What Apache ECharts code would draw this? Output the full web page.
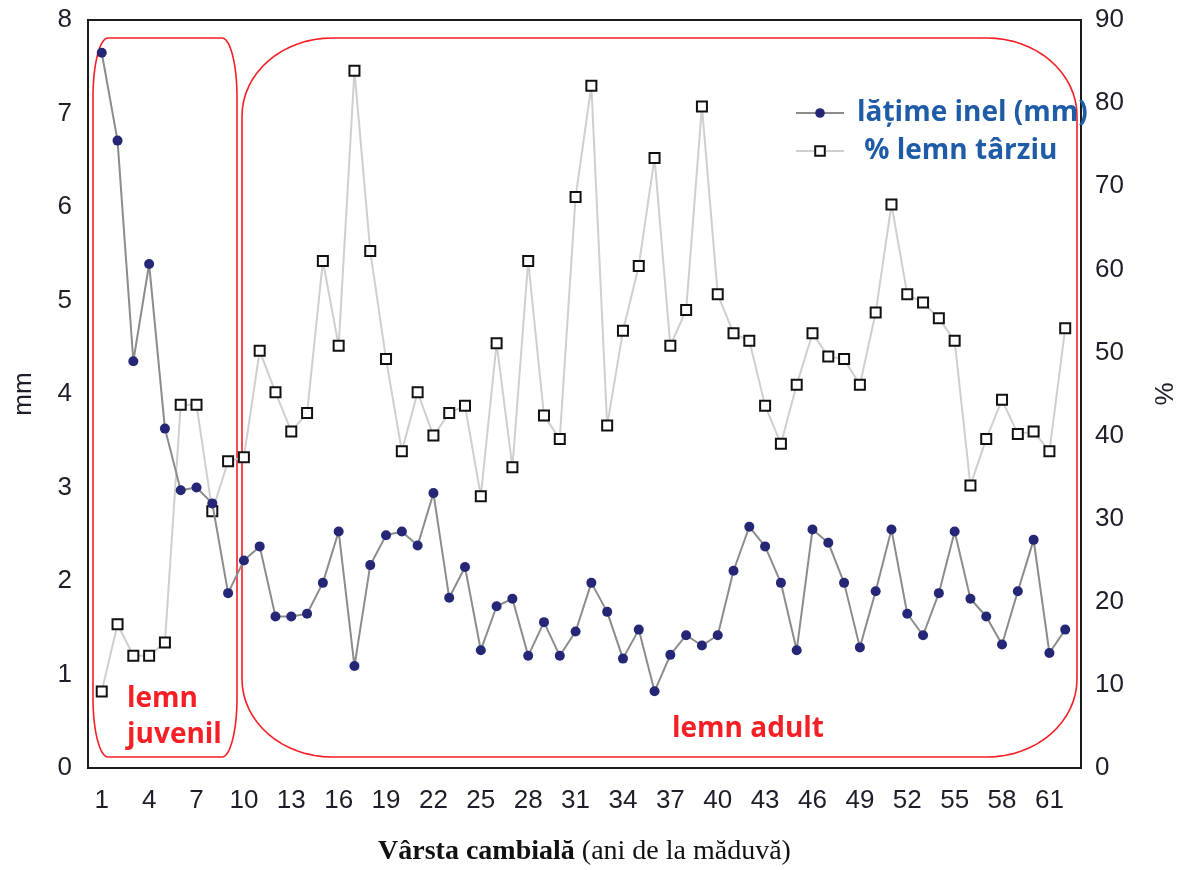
<!DOCTYPE html>
<html>
<head>
<meta charset="utf-8">
<title>Vârsta cambială</title>
<script src="https://cdn.jsdelivr.net/npm/echarts@6/dist/echarts.min.js"></script>
<style>
    html, body { margin: 0; padding: 0; background: #fff; }
    #chart { width: 1182px; height: 870px; }
</style>
</head>
<body>
<div id="chart"></div>
<script>
// ani de la măduvă (1..62)
const ages = Array.from({ length: 62 }, (_, i) => i + 1)
const xTicks = [1, 4, 7, 10, 13, 16, 19, 22, 25, 28, 31, 34, 37, 40, 43, 46, 49, 52, 55, 58, 61]

// lățime inel (mm)
const ringWidth = [
    7.65, 6.71, 4.35, 5.39, 3.63, 2.97, 3.00, 2.83, 1.87, 2.22,
    2.37, 1.62, 1.62, 1.65, 1.98, 2.53, 1.09, 2.17, 2.49, 2.53,
    2.38, 2.94, 1.82, 2.15, 1.26, 1.73, 1.81, 1.20, 1.56, 1.20,
    1.46, 1.98, 1.67, 1.17, 1.48, 0.82, 1.21, 1.42, 1.31, 1.42,
    2.11, 2.58, 2.37, 1.98, 1.26, 2.55, 2.41, 1.98, 1.29, 1.89,
    2.55, 1.65, 1.42, 1.87, 2.53, 1.81, 1.62, 1.32, 1.89, 2.44,
    1.23, 1.48
]

// % lemn târziu
const latewood = [
    9.2, 17.3, 13.5, 13.5, 15.1, 43.7, 43.7, 30.9, 36.9, 37.4,
    50.2, 45.2, 40.5, 42.7, 61.0, 50.8, 83.9, 62.2, 49.2, 38.1,
    45.2, 40.0, 42.7, 43.6, 32.7, 51.1, 36.2, 61.0, 42.4, 39.6,
    68.7, 82.1, 41.2, 52.6, 60.4, 73.4, 50.8, 55.1, 79.6, 57.0,
    52.3, 51.4, 43.6, 39.0, 46.1, 52.3, 49.5, 49.2, 46.1, 54.8,
    67.8, 57.0, 56.0, 54.1, 51.4, 34.0, 39.6, 44.3, 40.2, 40.5,
    38.1, 52.9
]

const tickFont = { fontFamily: 'Liberation Sans, Arial, sans-serif', fontSize: 26, color: '#1e1e2a' }
const red = '#f51f26'

// dreptunghi cu colturi eliptice, ca polilinie
function boxPoints(x1, y1, x2, y2, rx, ry) {
    const pts = []
    const n = 16
    const corner = (cx, cy, a0) => {
        for (let i = 0; i <= n; i++) {
            const a = a0 + (Math.PI / 2) * i / n
            pts.push([cx + rx * Math.cos(a), cy + ry * Math.sin(a)])
        }
    }
    corner(x2 - rx, y1 + ry, -Math.PI / 2)
    corner(x2 - rx, y2 - ry, 0)
    corner(x1 + rx, y2 - ry, Math.PI / 2)
    corner(x1 + rx, y1 + ry, Math.PI)
    pts.push(pts[0])
    return pts
}

const myChart = echarts.init(document.getElementById('chart'))
myChart.setOption({
    animation: false,
    backgroundColor: '#fff',
    grid: {
        left: 88, right: 101, top: 20, bottom: 102,
        outerBoundsMode: 'none',
        show: true, borderColor: '#1a1a1a', borderWidth: 2
    },
    legend: {
        orient: 'vertical',
        left: 795, top: 98, padding: 0,
        itemWidth: 48, itemHeight: 12, itemGap: 8,
        textStyle: {
            color: '#1f5ca8', fontFamily: 'Open Sans', fontWeight: 'bold',
            fontSize: 28, lineHeight: 30, padding: [0, 0, 0, 8]
        },
        data: ['lățime inel (mm)', ' % lemn târziu']
    },
    xAxis: {
        type: 'value', min: 0.13, max: 63,
        axisLine: { lineStyle: { color: '#1a1a1a', width: 2 } },
        axisTick: { show: false },
        splitLine: { show: false },
        axisLabel: { ...tickFont, margin: 20, customValues: xTicks },
        name: '{b|Vârsta cambială} (ani de la măduvă)',
        nameLocation: 'middle', nameGap: 70,
        nameTextStyle: {
            fontFamily: 'Liberation Serif, Times New Roman, serif', fontSize: 28, color: '#111',
            rich: { b: { fontFamily: 'Liberation Serif, Times New Roman, serif', fontSize: 28, fontWeight: 'bold', color: '#111' } }
        }
    },
    yAxis: [
        {
            type: 'value', min: 0, max: 8, interval: 1,
            axisLine: { show: true, lineStyle: { color: '#1a1a1a', width: 2 } },
            axisTick: { show: false },
            splitLine: { show: false },
            axisLabel: { ...tickFont, margin: 16 },
            name: 'mm', nameLocation: 'middle', nameRotate: 90, nameGap: 51,
            nameTextStyle: { ...tickFont }
        },
        {
            type: 'value', min: 0, max: 90, interval: 10, position: 'right',
            axisLine: { show: true, lineStyle: { color: '#1a1a1a', width: 2 } },
            axisTick: { show: false },
            splitLine: { show: false },
            axisLabel: { ...tickFont, margin: 14 },
            name: '%', nameLocation: 'middle', nameRotate: 90, nameGap: 72,
            nameTextStyle: { ...tickFont }
        }
    ],
    graphic: [
        { type: 'polyline', z: 1, silent: true, shape: { points: boxPoints(93, 38, 237, 757, 15, 59) }, style: { stroke: red, fill: null, lineWidth: 1.6 } },
        { type: 'polyline', z: 1, silent: true, shape: { points: boxPoints(242, 38, 1077, 757, 90, 78) }, style: { stroke: red, fill: null, lineWidth: 1.6 } },
        { type: 'text', z: 1, left: 127, top: 681, style: { text: 'lemn\njuvenil', fill: red, font: 'bold 28px "Open Sans"', lineHeight: 36 } },
        { type: 'text', z: 1, left: 672, top: 715, style: { text: 'lemn adult', fill: red, font: 'bold 28px "Open Sans"' } }
    ],
    series: [
        {
            name: 'lățime inel (mm)',
            type: 'line',
            yAxisIndex: 0,
            data: ages.map((a, i) => [a, ringWidth[i]]),
            symbol: 'circle', symbolSize: 10,
            lineStyle: { color: '#8c8c8c', width: 2 },
            itemStyle: { color: '#252675' },
            z: 4
        },
        {
            name: ' % lemn târziu',
            type: 'line',
            yAxisIndex: 1,
            data: ages.map((a, i) => [a, latewood[i]]),
            symbol: 'rect', symbolSize: 10,
            lineStyle: { color: '#cfcfcf', width: 2 },
            itemStyle: { color: '#fff', borderColor: '#111', borderWidth: 2 },
            z: 3
        }
    ]
})
</script>
</body>
</html>
